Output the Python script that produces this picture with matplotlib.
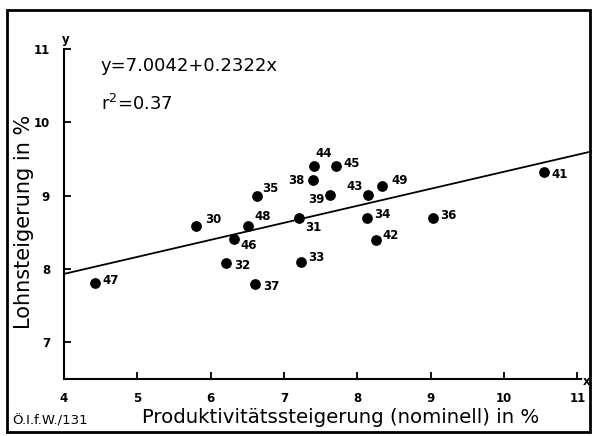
import numpy as np
import matplotlib
matplotlib.use("Agg")
import matplotlib.pyplot as plt
from matplotlib.patches import Rectangle

# Datenpunkte (Jahr, Produktivitaet, Lohnsteigerung)
jahre = ["30", "31", "32", "33", "34", "35", "36", "37", "38", "39",
         "41", "42", "43", "44", "45", "46", "47", "48", "49"]
produktivitaet = [5.80, 7.21, 6.21, 7.23, 8.13, 6.63, 9.03, 6.61, 7.40, 7.63,
                  10.54, 8.25, 8.14, 7.41, 7.71, 6.32, 4.42, 6.51, 8.34]
lohn = [8.59, 8.69, 8.08, 8.09, 8.70, 9.00, 8.69, 7.80, 9.21, 9.01,
        9.32, 8.39, 9.01, 9.41, 9.40, 8.41, 7.81, 8.58, 9.13]

# Regression
a0 = 7.0042
a1 = 0.2322

x_ticks = [4, 5, 6, 7, 8, 9, 10, 11]
y_ticks = [7, 8, 9, 10, 11]

# Lage der Beschriftungen (Pixel, rechts / unten positiv)
versatz = {
    "30": (17, -6), "31": (14, 9), "32": (16, 2), "33": (15, -5),
    "34": (16, -3), "35": (14, -7), "36": (16, -3), "37": (16, 3),
    "38": (-17, 0), "39": (-14, 5), "41": (16, 2), "42": (15, -5),
    "43": (-13, -8), "44": (10, -12), "45": (16, -3), "46": (15, 7),
    "47": (16, -2), "48": (15, -10), "49": (17, -6),
}

W, H = 592, 436
fig = plt.figure(figsize=(W / 100, H / 100), dpi=100)
ax = fig.add_axes([64 / W, (H - 379) / H, (581 - 64) / W, (379 - 49) / H])

ax.scatter(produktivitaet, lohn, s=45, color="black", zorder=3, clip_on=False)
for j, px, py in zip(jahre, produktivitaet, lohn):
    dx, dy = versatz[j]
    ax.annotate(j, (px, py), xytext=(dx * 0.72, -dy * 0.72),
                textcoords="offset points", ha="center", va="center",
                fontsize=8.5, fontweight="bold")

xl = np.array([4.0, 11.2])
ax.plot(xl, a0 + a1 * xl, color="black", lw=1.3, clip_on=False)

ax.set_xlim(4, 11.05)
ax.set_ylim(6.5, 11)
ax.set_xticks(x_ticks)
ax.set_yticks(y_ticks)
ax.spines[["top", "right"]].set_visible(False)
ax.spines[["left", "bottom"]].set_linewidth(1.5)
ax.tick_params(direction="in", length=5, width=1.3, labelsize=8.5)
ax.tick_params(axis="y", pad=10)
ax.tick_params(axis="x", pad=9)
for t in ax.get_xticklabels() + ax.get_yticklabels():
    t.set_fontweight("bold")

fig.text(101 / W, 1 - 66 / H, "y=7.0042+0.2322x", fontsize=13,
         va="center", ha="left")
fig.text(101 / W, 1 - 104 / H, "r$^2$=0.37", fontsize=13,
         va="center", ha="left")

fig.text(66 / W, 1 - 40 / H, "y", fontsize=8.5, fontweight="bold", ha="center", va="center")
fig.text(587 / W, 1 - 381 / H, "x", fontsize=8.5, fontweight="bold", ha="center", va="center")

fig.text(24 / W, 1 - 222 / H, "Lohnsteigerung in %", rotation=90,
         fontsize=15, ha="center", va="center")
fig.text(341 / W, 1 - 417 / H, "Produktivitätssteigerung (nominell) in %",
         fontsize=14.2, ha="center", va="center")
fig.text(12 / W, 1 - 421 / H, "Ö.I.f.W./131", fontsize=9.5, ha="left", va="center")

fig.add_artist(Rectangle((7 / W, 4 / H), (590 - 7) / W, (432 - 10) / H,
                         transform=fig.transFigure, fill=False, lw=2, color="black"))

fig.savefig("out.png", dpi=100)
